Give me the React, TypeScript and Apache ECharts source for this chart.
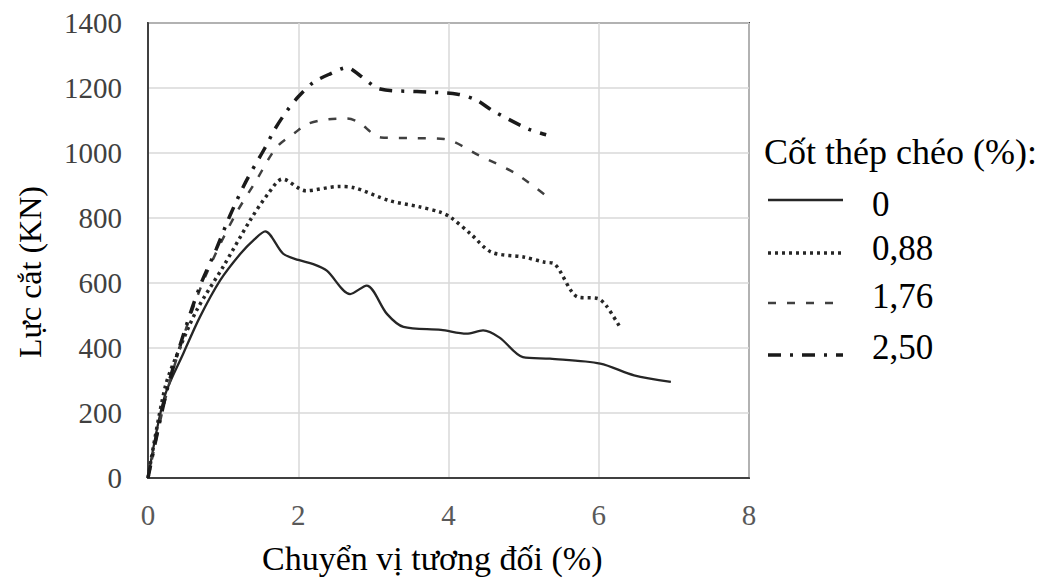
import React, { useEffect, useRef } from "react";
import * as echarts from "echarts";

// Series 0 % diagonal reinforcement
const disp0 = [0, 0.22, 0.47, 0.69, 0.96, 1.23, 1.42, 1.56, 1.8, 2.0, 2.2, 2.38, 2.69, 2.91, 3.18, 3.4, 3.9, 4.24, 4.46, 4.68, 4.99, 5.35, 6.02, 6.47, 6.96];
const force0 = [0, 250, 383, 495, 608, 690, 735, 759, 690, 671, 658, 638, 566, 592, 505, 465, 456, 444, 454, 432, 372, 367, 352, 316, 296];

// Series 0,88 %
const disp1 = [0, 0.23, 0.43, 0.65, 1.0, 1.36, 1.6, 1.79, 2.1, 2.55, 2.73, 3.22, 3.6, 3.89, 4.03, 4.3, 4.57, 5.0, 5.28, 5.41, 5.72, 5.99, 6.1, 6.28];
const force1 = [0, 281, 404, 517, 650, 793, 875, 920, 884, 897, 894, 853, 835, 818, 802, 750, 695, 680, 664, 659, 557, 552, 530, 465];

// Series 1,76 %
const disp2 = [0, 0.25, 0.5, 0.7, 0.91, 1.17, 1.44, 1.71, 1.96, 2.12, 2.4, 2.65, 2.8, 3.1, 3.5, 3.94, 4.41, 4.9, 5.35];
const force2 = [0, 262, 455, 585, 695, 813, 915, 1017, 1063, 1089, 1104, 1106, 1095, 1048, 1046, 1043, 992, 936, 859];

// Series 2,50 %
const disp3 = [0, 0.25, 0.5, 0.7, 0.91, 1.09, 1.31, 1.56, 1.69, 1.85, 2.0, 2.2, 2.42, 2.65, 2.83, 3.09, 3.58, 4.12, 4.37, 4.59, 5.06, 5.3];
const force3 = [0, 268, 462, 595, 705, 807, 915, 1017, 1074, 1130, 1173, 1217, 1243, 1263, 1237, 1197, 1189, 1181, 1163, 1130, 1074, 1056];

const seriesNames = ["0", "0,88", "1,76", "2,50"];
const xTitle = "Chuyển vị tương đối (%)";
const yTitle = "Lực cắt (KN)";
const legendTitle = "Cốt thép chéo (%):";

const FONT = "Liberation Serif";

const zip = (xs: number[], ys: number[]) => xs.map((x, i) => [x, ys[i]]);

const styles = [
  { type: "solid" as any, width: 2.3, color: "#262626" },
  { type: [3, 4] as any, width: 3.5, color: "#262626" },
  { type: [8, 11] as any, width: 2.5, color: "#404040" },
  { type: [13, 9, 3, 9] as any, width: 3.5, color: "#1a1a1a" },
];

export default function App() {
  const ref = useRef<HTMLDivElement>(null);
  useEffect(() => {
    if (!ref.current) return;
    const chart = echarts.init(ref.current, undefined, { renderer: "svg" });
    const datasets = [zip(disp0, force0), zip(disp1, force1), zip(disp2, force2), zip(disp3, force3)];
    const legendLineY = [200, 253, 303, 355];
    const legendTextY = [204, 248, 296, 347];
    const txt = (size: number) => ({ fontFamily: FONT, fontSize: size, fill: "#000" });
    const graphic: any[] = [
      {
        type: "text",
        x: 262,
        y: 558,
        style: { ...txt(34), text: xTitle, verticalAlign: "middle" },
      },
      {
        type: "text",
        x: 30,
        y: 272,
        rotation: Math.PI / 2,
        style: { ...txt(32), text: yTitle, align: "center", verticalAlign: "middle" },
      },
      {
        type: "text",
        x: 764,
        y: 152,
        style: { ...txt(36), text: legendTitle, verticalAlign: "middle" },
      },
    ];
    seriesNames.forEach((n, i) => {
      graphic.push({
        type: "line",
        shape: { x1: 768, y1: legendLineY[i], x2: 843, y2: legendLineY[i] },
        style: { stroke: styles[i].color, lineWidth: styles[i].width, lineDash: styles[i].type === "solid" ? null : styles[i].type },
      });
      graphic.push({
        type: "text",
        x: 872,
        y: legendTextY[i],
        style: { ...txt(35), text: n, verticalAlign: "middle" },
      });
    });

    chart.setOption({
      animation: false,
      backgroundColor: "#fff",
      grid: { left: 148, right: 308, top: 23, bottom: 103, show: true, borderColor: "#404040", borderWidth: 2 },
      xAxis: {
        type: "value",
        min: 0,
        max: 8,
        interval: 2,
        axisLine: { show: true, lineStyle: { color: "#404040", width: 2 } },
        axisTick: { show: false },
        splitLine: { show: true, lineStyle: { color: "#d9d9d9", width: 1.5 } },
        axisLabel: { fontFamily: FONT, fontSize: 29, color: "#595959", margin: 22 },
      },
      yAxis: {
        type: "value",
        min: 0,
        max: 1400,
        interval: 200,
        axisLine: { show: true, lineStyle: { color: "#404040", width: 2 } },
        axisTick: { show: false },
        splitLine: { show: true, lineStyle: { color: "#d9d9d9", width: 1.5 } },
        axisLabel: { fontFamily: FONT, fontSize: 29, color: "#404040", margin: 26, formatter: (v: number) => String(v) },
      },
      series: datasets.map((d, i) => ({
        name: seriesNames[i],
        type: "line",
        data: d,
        showSymbol: false,
        smooth: 0.3,
        lineStyle: { color: styles[i].color, width: styles[i].width, type: styles[i].type },
      })),
      graphic,
    });
    return () => chart.dispose();
  }, []);
  return <div ref={ref} style={{ width: 1057, height: 581, position: "absolute", left: 0, top: 0 }} />;
}
